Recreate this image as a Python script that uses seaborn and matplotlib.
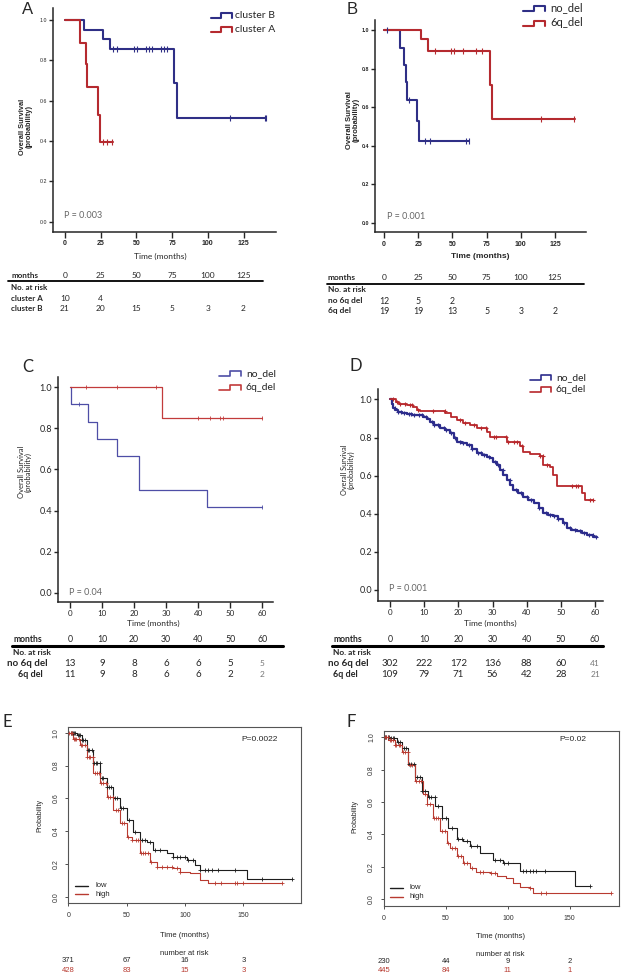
import numpy as np
import pandas as pd
import matplotlib
matplotlib.use("Agg")
import matplotlib.pyplot as plt
import seaborn as sns
from matplotlib.lines import Line2D
from matplotlib.transforms import blended_transform_factory

W, H = 621, 975

# ---------------- data ----------------
# A: cluster B / cluster A
a_clB_t = [13.5, 26.9, 31.5, 76.4, 78.7]
a_clB_s = [0.953, 0.906, 0.857, 0.686, 0.514]
a_clB_cens = [33.9, 36.7, 48.4, 50.2, 56.5, 58.9, 60.7, 67.0, 69.0, 71.7, 115.7, 139.7, 140.6]
a_clA_t = [10.5, 14.7, 15.7, 23.4, 24.5]
a_clA_s = [0.888, 0.78, 0.667, 0.53, 0.397]
a_clA_cens = [26.9, 29.7, 32.7]
a_months = [0, 25, 50, 75, 100, 125]
a_risk_A = [10, 4]
a_risk_B = [21, 20, 15, 5, 3, 2]

# B: no_del / 6q_del
b_no_t = [11.7, 14.6, 15.8, 16.5, 24.3, 25.5]
b_no_s = [0.908, 0.817, 0.73, 0.638, 0.53, 0.423]
b_no_cens = [2.0, 18.4, 30.3, 33.5, 60.2, 62.0]
b_6q_t = [27.4, 32.3, 77.2, 78.9]
b_6q_s = [0.951, 0.892, 0.713, 0.539]
b_6q_cens = [37.1, 49.3, 51.2, 57.8, 67.5, 71.8, 114.8, 138.6]
b_months = [0, 25, 50, 75, 100, 125]
b_risk_no = [12, 5, 2]
b_risk_6q = [19, 19, 13, 5, 3, 2]

# C
c_no_t = [0.5, 5.7, 8.6, 14.8, 21.6, 42.6]
c_no_s = [0.917, 0.833, 0.75, 0.667, 0.5, 0.417]
c_no_cens = [2.8, 59.8]
c_6q_t = [28.8]
c_6q_s = [0.849]
c_6q_cens = [4.9, 14.8, 26.8, 39.8, 43.7, 46.8, 47.6, 59.8]
c_months = [0, 10, 20, 30, 40, 50, 60]
c_risk_no = [13, 9, 8, 6, 6, 5, 5]
c_risk_6q = [11, 9, 8, 6, 6, 2, 2]

# D
d_no_t = [0.5, 1.0, 1.6, 2.4, 3.5, 4.9, 6.5, 7.8, 9.8, 10.8, 11.7, 13.0, 14.6, 16.0, 17.6,
          18.6, 19.5, 21.0, 22.4, 24.0, 25.4, 27.0, 28.3, 29.3, 30.2, 31.2, 32.2, 33.2,
          34.1, 35.1, 36.1, 37.5, 39.0, 40.5, 42.0, 43.5, 44.9, 46.3, 47.8, 49.2, 50.7,
          51.7, 53.1, 54.6, 56.1, 57.6, 59.5]
d_no_s = [0.975, 0.953, 0.945, 0.935, 0.93, 0.923, 0.92, 0.918, 0.909, 0.895, 0.883, 0.868,
          0.852, 0.838, 0.822, 0.80, 0.778, 0.77, 0.761, 0.74, 0.717, 0.708, 0.70, 0.69,
          0.674, 0.655, 0.63, 0.605, 0.578, 0.55, 0.525, 0.507, 0.49, 0.472, 0.455, 0.43,
          0.403, 0.395, 0.386, 0.37, 0.35, 0.325, 0.315, 0.307, 0.298, 0.29, 0.277]
d_no_cens = [1.5, 2.5, 3.2, 4.0, 5.5, 6.3, 7.1, 8.6, 9.4, 10.5, 12.2, 13.0, 14.1, 15.8, 16.5,
             18.0, 19.0, 20.6, 21.3, 23.0, 24.1, 25.8, 26.7, 27.5, 29.0, 30.8, 31.5, 33.0,
             35.0, 36.8, 38.2, 40.1, 41.3, 43.5, 45.5, 46.8, 48.0, 49.2, 51.0, 52.8, 54.0,
             55.5, 56.8, 58.3, 59.4, 60.3]
d_6q_t = [1.8, 2.6, 4.9, 6.8, 7.8, 8.8, 16.1, 18.0, 19.5, 21.5, 23.4, 25.4, 28.3, 29.3, 34.1,
          38.0, 39.0, 41.0, 43.9, 44.9, 46.8, 47.8, 48.8, 56.1, 57.1]
d_6q_s = [0.985, 0.976, 0.97, 0.958, 0.944, 0.939, 0.927, 0.906, 0.892, 0.874, 0.866, 0.852,
          0.83, 0.805, 0.778, 0.756, 0.726, 0.712, 0.703, 0.656, 0.647, 0.604, 0.546, 0.508,
          0.473]
d_6q_cens = [0.8, 2.0, 3.0, 4.3, 5.8, 6.5, 8.2, 12.5, 16.0, 20.6, 22.0, 24.5, 26.5, 28.0,
             30.3, 31.0, 33.8, 34.5, 36.4, 37.2, 38.5, 44.0, 44.8, 45.8, 53.2, 54.4, 55.0,
             58.5, 59.4]
d_months = [0, 10, 20, 30, 40, 50, 60]
d_risk_no = [302, 222, 172, 136, 88, 60, 41]
d_risk_6q = [109, 79, 71, 56, 42, 28, 21]

# E: low / high
e_low_t = [7.1, 11.4, 15.7, 21.4, 27.1, 32.9, 38.6, 44.3, 50.0, 55.7, 61.4, 67.1, 72.9,
           84.3, 90.0, 101.4, 108.6, 112.9, 152.9]
e_low_s = [0.986, 0.955, 0.894, 0.813, 0.722, 0.671, 0.60, 0.539, 0.468, 0.397, 0.346,
           0.336, 0.285, 0.264, 0.244, 0.223, 0.193, 0.163, 0.106]
e_low_cens = [2, 3, 4, 5, 6, 8, 9, 10, 12, 13, 14, 17, 18, 20, 22, 24, 25, 27, 29, 30, 33,
              35, 37, 40, 42, 45, 47, 52, 57, 63, 66, 70, 74, 79, 90, 92.9, 95.7, 100, 102.9,
              107.1, 112.9, 117, 120, 122.9, 128.6, 142.9, 165.7, 191.4]
e_high_t = [4.3, 10.0, 15.7, 21.4, 27.1, 32.9, 38.6, 44.3, 50.0, 54.3, 61.4, 70.0, 75.7,
            90.0, 95.7, 104.3, 112.9, 120.0]
e_high_s = [0.965, 0.925, 0.854, 0.752, 0.691, 0.61, 0.529, 0.448, 0.366, 0.346, 0.264,
            0.213, 0.183, 0.173, 0.153, 0.142, 0.102, 0.081]
e_high_cens = [1, 2, 3, 5, 6, 7, 9, 11, 12, 14, 16, 18, 19, 21, 23, 25, 26, 28, 30, 32, 34,
               36, 38, 41, 43, 46, 48, 51, 55, 58, 60, 62, 64, 66, 68, 71, 75.7, 80, 84.3,
               88.6, 92.9, 95.7, 125.7, 131, 142.9, 144.9, 150, 182.9]
e_months = [0, 50, 100, 150]
e_risk_low = [371, 67, 16, 3]
e_risk_high = [428, 83, 15, 3]

# F: low / high
f_low_t = [4.8, 10.2, 14.2, 19.6, 25.0, 30.4, 35.8, 41.1, 46.5, 51.9, 58.6, 64.0, 69.4,
           77.4, 88.2, 96.2, 109.7, 154.0]
f_low_s = [0.994, 0.973, 0.931, 0.838, 0.754, 0.671, 0.629, 0.577, 0.504, 0.442, 0.369,
           0.358, 0.327, 0.285, 0.244, 0.223, 0.175, 0.081]
f_low_cens = [1, 2, 3, 4, 6, 7, 8, 11, 13, 16, 18, 20, 22, 24, 27, 29, 31, 33, 36, 38, 41,
              44, 47, 50, 55, 60, 63, 67, 70, 75, 89.5, 93.5, 96.8, 100.3, 112.4, 115, 117.7,
              120.4, 123.1, 129.8, 166.0]
f_high_t = [3.5, 8.9, 14.2, 19.6, 25.0, 31.7, 34.4, 39.8, 45.2, 50.5, 53.2, 58.6, 64.0,
            69.4, 74.7, 85.5, 90.9, 98.9, 104.3, 109.7, 117.7, 120.4]
f_high_s = [0.983, 0.952, 0.91, 0.827, 0.733, 0.65, 0.588, 0.504, 0.421, 0.348, 0.317,
            0.265, 0.223, 0.192, 0.165, 0.16, 0.14, 0.129, 0.098, 0.077, 0.067, 0.04]
f_high_cens = [1, 2, 3, 5, 6, 7, 9, 10, 12, 13, 15, 17, 19, 21, 23, 26, 28, 30, 33, 35, 37,
               40, 42, 44, 47, 49, 52, 55, 57, 60, 62, 65, 67, 70.7, 77.4, 80.1, 86.8, 89.5,
               117.7, 127.2, 131.2, 183.6]
f_months = [0, 50, 100, 150]
f_risk_low = [230, 44, 9, 2]
f_risk_high = [445, 84, 11, 1]

# ---------------- helpers ----------------
sns.set_style("ticks")
plt.rcParams["font.family"] = ["Lato", "DejaVu Sans"]

fig = plt.figure(figsize=(W / 100, H / 100), dpi=100)


def rect(l, t, r, b):
    return [l / W, 1 - b / H, (r - l) / W, (b - t) / H]


def fy(y):
    return 1 - y / H


def ftext(x, y, s, **kw):
    kw.setdefault("va", "center")
    fig.text(x / W, fy(y), s, **kw)


def hline(x0, x1, y, lw=1.5, color="black"):
    fig.add_artist(Line2D([x0 / W, x1 / W], [fy(y), fy(y)], color=color, lw=lw))


def step_icon(x0, y, w, color, lw=1.5):
    xs = np.array([0, 0.5, 0.5, 1.0, 1.0]) * w + x0
    ys = np.array([2.5, 2.5, -2.5, -2.5, 2.5]) + y
    fig.add_artist(Line2D(xs / W, 1 - ys / H, color=color, lw=lw))


def km(ax, times, surv, cens, end, color, lw, ms, marker="|", mew=0.8):
    t = [0.0] + list(times) + [end]
    s = [1.0] + list(surv) + [surv[-1]]
    df = pd.DataFrame({"t": t, "s": s})
    sns.lineplot(data=df, x="t", y="s", drawstyle="steps-post", color=color, lw=lw,
                 estimator=None, sort=False, ax=ax)
    idx = np.searchsorted(np.array(times), np.array(cens), side="right")
    cy = np.array([1.0] + list(surv))[idx]
    cdf = pd.DataFrame({"t": cens, "s": cy})
    sns.scatterplot(data=cdf, x="t", y="s", marker=marker, color=color, s=ms,
                    linewidth=mew, ax=ax, zorder=3)


def risk_row(ax, y, months, values, **kw):
    tr = blended_transform_factory(ax.transData, fig.transFigure)
    for m, v in zip(months, values):
        kw2 = dict(ha="center", va="center")
        kw2.update(kw)
        ax.text(m, fy(y), str(v), transform=tr, **kw2)


def gp_axes(ax, xlim, ylim, xticks, xfs, yfs, xbold=False, ybold=False, family=None):
    ax.set_xlim(*xlim)
    ax.set_ylim(*ylim)
    sns.despine(ax=ax)
    ax.set_xticks(xticks)
    ax.set_yticks([0, 0.2, 0.4, 0.6, 0.8, 1.0])
    ax.set_yticklabels(["0.0", "0.2", "0.4", "0.6", "0.8", "1.0"])
    ax.tick_params(axis="x", labelsize=xfs, length=4, width=1, pad=2)
    ax.tick_params(axis="y", labelsize=yfs, length=3, width=1, pad=1.5)
    for lab in ax.get_xticklabels():
        if xbold:
            lab.set_fontweight("bold")
        if family:
            lab.set_family(family)
    for lab in ax.get_yticklabels():
        if ybold:
            lab.set_fontweight("bold")
        if family:
            lab.set_family(family)
    for sp in ax.spines.values():
        sp.set_linewidth(1.1)
    ax.set_xlabel("")
    ax.set_ylabel("")


navy = "#2f2f86"
dred = "#b52a2f"

# ---------------- Panel A ----------------
axA = fig.add_axes(rect(53, 8, 276, 232))
km(axA, a_clB_t, a_clB_s, a_clB_cens, 140.6, navy, 1.5, 14)
km(axA, a_clA_t, a_clA_s, a_clA_cens, 33.5, dred, 1.5, 14)
gp_axes(axA, (-8.4, 147.7), (-0.051, 1.06), a_months, 5, 3.8, xbold=True,
        family=["Liberation Sans Narrow", "Liberation Sans"])
ftext(22, 9, "A", fontsize=12, family="Liberation Sans")
step_icon(211, 15.7, 21, navy)
step_icon(211, 29, 21, dred)
ftext(235, 15.7, "cluster B", fontsize=7.5)
ftext(235, 29, "cluster A", fontsize=7.5)
ftext(64, 216, "P = 0.003", fontsize=6.5, color="#666666")
ftext(26, 127, "Overall Survival\n(probability)", fontsize=5.3, rotation=90, ha="center",
      fontweight="bold", family="Liberation Sans", linespacing=1.0)
ftext(160, 256.7, "Time (months)", fontsize=6, ha="center")
ftext(11, 275, "months", fontsize=5.8, fontweight="bold")
risk_row(axA, 275, a_months, a_months, fontsize=6)
hline(8, 263, 280.5, lw=1.3)
ftext(11, 287.3, "No. at risk", fontsize=5.8, fontweight="bold")
ftext(11, 298.3, "cluster A", fontsize=5.8, fontweight="bold")
ftext(11, 309, "cluster B", fontsize=5.8, fontweight="bold")
risk_row(axA, 298.3, a_months, a_risk_A, fontsize=6)
risk_row(axA, 309, a_months, a_risk_B, fontsize=6)

# ---------------- Panel B ----------------
axB = fig.add_axes(rect(375, 20, 586, 232.3))
km(axB, b_no_t, b_no_s, b_no_cens, 62.0, navy, 1.5, 14)
km(axB, b_6q_t, b_6q_s, b_6q_cens, 139.5, dred, 1.5, 14)
gp_axes(axB, (-6.6, 147.7), (-0.05, 1.052), b_months, 5, 3.8, xbold=True, ybold=True,
        family=["Liberation Sans Narrow", "Liberation Sans"])
ftext(347, 10, "B", fontsize=12, family="Liberation Sans")
step_icon(523, 8, 22, navy)
step_icon(523, 23, 22, dred)
ftext(550, 8, "no_del", fontsize=8)
ftext(550, 23, "6q_del", fontsize=8)
ftext(387, 216.7, "P = 0.001", fontsize=6.5, color="#666666")
ftext(353, 120, "Overall Survival\n(probability)", fontsize=5.5, rotation=90, ha="center",
      fontweight="bold", family="Liberation Sans", linespacing=1.0)
ftext(480, 256, "Time (months)", fontsize=6, ha="center", fontweight="bold",
      family="Liberation Sans")
ftext(328, 277.3, "months", fontsize=6, fontweight="bold")
risk_row(axB, 277.3, b_months, b_months, fontsize=6)
hline(326.7, 584, 284.3, lw=1.3)
ftext(328, 289.5, "No. at risk", fontsize=6, fontweight="bold")
ftext(328, 301, "no 6q del", fontsize=6, fontweight="bold")
ftext(328, 311, "6q del", fontsize=6, fontweight="bold")
risk_row(axB, 301, b_months, b_risk_no, fontsize=6.3)
risk_row(axB, 311, b_months, b_risk_6q, fontsize=6.3)

# ---------------- Panel C ----------------
blue_c = "#4e4ea6"
red_c = "#c23b3b"
axC = fig.add_axes(rect(58.3, 376.7, 272.7, 601.7))
km(axC, c_no_t, c_no_s, c_no_cens, 59.8, blue_c, 0.9, 10, mew=0.6)
km(axC, c_6q_t, c_6q_s, c_6q_cens, 59.8, red_c, 0.9, 10, mew=0.6)
gp_axes(axC, (-3.6, 63.2), (-0.044, 1.052), c_months, 5.8, 6.5)
ftext(22, 367, "C", fontsize=12)
step_icon(219, 373.3, 22, blue_c, lw=1.2)
step_icon(219, 387.3, 22, red_c, lw=1.2)
ftext(246, 373.3, "no_del", fontsize=7.5)
ftext(246, 387.3, "6q_del", fontsize=7.5)
ftext(69.3, 592.3, "P = 0.04", fontsize=6.5, color="#666666")
ftext(25, 471.7, "Overall Survival\n(probability)", fontsize=5.5, rotation=90, ha="center",
      linespacing=1.0)
ftext(153.3, 623.3, "Time (months)", fontsize=6, ha="center")
ftext(13, 639.3, "months", fontsize=6.2, fontweight="bold")
risk_row(axC, 639.3, c_months, c_months, fontsize=6.3)
hline(11.7, 282.7, 646, lw=2.2)
ftext(13, 652.7, "No. at risk", fontsize=6, fontweight="bold")
ftext(7, 663.3, "no 6q del", fontsize=7, fontweight="bold")
ftext(18, 674.3, "6q del", fontsize=6.5, fontweight="bold")
risk_row(axC, 663.3, c_months[:-1], c_risk_no[:-1], fontsize=7)
risk_row(axC, 674.3, c_months[:-1], c_risk_6q[:-1], fontsize=7)
risk_row(axC, 663.3, c_months[-1:], c_risk_no[-1:], fontsize=6, color="#777777")
risk_row(axC, 674.3, c_months[-1:], c_risk_6q[-1:], fontsize=6, color="#777777")

# ---------------- Panel D ----------------
blue_d = "#2c2c8c"
red_d = "#b8282c"
axD = fig.add_axes(rect(378.3, 389.3, 603.3, 601))
km(axD, d_no_t, d_no_s, d_no_cens, 60.5, blue_d, 1.6, 10, marker="+", mew=0.8)
km(axD, d_6q_t, d_6q_s, d_6q_cens, 59.5, red_d, 1.3, 10, marker="+", mew=0.8)
gp_axes(axD, (-3.4, 62.4), (-0.058, 1.053), d_months, 5.8, 6.5)
ftext(350, 366, "D", fontsize=12)
step_icon(530, 377.7, 21, blue_d, lw=1.2)
step_icon(530, 389.3, 21, red_d, lw=1.2)
ftext(556, 377.7, "no_del", fontsize=7.5)
ftext(556, 389.3, "6q_del", fontsize=7.5)
ftext(389, 588.3, "P = 0.001", fontsize=6.5, color="#666666")
ftext(348, 470, "Overall Survival\n(probability)", fontsize=5.3, rotation=90, ha="center",
      linespacing=1.0)
ftext(490, 623.3, "Time (months)", fontsize=6, ha="center")
ftext(333, 639.3, "months", fontsize=6.2, fontweight="bold")
risk_row(axD, 639.3, d_months, d_months, fontsize=6.3)
hline(331.7, 602.7, 646, lw=2.2)
ftext(333, 652.7, "No. at risk", fontsize=6, fontweight="bold")
ftext(328, 663.3, "no 6q del", fontsize=7, fontweight="bold")
ftext(333, 674.3, "6q del", fontsize=6.5, fontweight="bold")
risk_row(axD, 663.3, d_months[:-1], d_risk_no[:-1], fontsize=7)
risk_row(axD, 674.3, d_months[:-1], d_risk_6q[:-1], fontsize=7)
risk_row(axD, 663.3, d_months[-1:], d_risk_no[-1:], fontsize=6, color="#777777")
risk_row(axD, 674.3, d_months[-1:], d_risk_6q[-1:], fontsize=6, color="#777777")

# ---------------- Panels E / F (R style) ----------------
blk = "#1e1e1e"
red_r = "#b83a30"


def r_axes(ax, xlim, ylim, xticks):
    ax.set_xlim(*xlim)
    ax.set_ylim(*ylim)
    ax.set_xticks(xticks)
    ax.set_yticks([0, 0.2, 0.4, 0.6, 0.8, 1.0])
    ax.set_yticklabels(["0.0", "0.2", "0.4", "0.6", "0.8", "1.0"], rotation=90, va="center")
    ax.tick_params(labelsize=5, length=2.5, width=0.6, pad=4, colors="#333333")
    for lab in ax.get_xticklabels() + ax.get_yticklabels():
        lab.set_family("Liberation Sans")
    for sp in ax.spines.values():
        sp.set_linewidth(0.8)
        sp.set_color("#555555")
    ax.set_xlabel("")
    ax.set_ylabel("")


axE = fig.add_axes(rect(68.3, 726.7, 301, 903.3))
km(axE, e_low_t, e_low_s, e_low_cens, 191.4, blk, 0.8, 12, marker="+", mew=0.6)
km(axE, e_high_t, e_high_s, e_high_cens, 182.9, red_r, 0.8, 12, marker="+", mew=0.6)
r_axes(axE, (0, 199.4), (-0.04, 1.037), e_months)
ftext(2, 721.7, "E", fontsize=12)
ftext(241, 739.3, "P=0.0022", fontsize=6, family="Liberation Sans")
ftext(40, 815, "Probability", fontsize=5, rotation=90, ha="center", family="Liberation Sans")
hline(75, 88, 885.7, lw=1.0, color=blk)
hline(75, 88, 894.3, lw=1.0, color=red_r)
ftext(95, 885.7, "low", fontsize=5.5, family="Liberation Sans")
ftext(95, 894.3, "high", fontsize=5.5, family="Liberation Sans")
ftext(185, 935.7, "Time (months)", fontsize=5.5, ha="center", family="Liberation Sans")
ftext(184, 953.3, "number at risk", fontsize=5.5, ha="center", family="Liberation Sans")
risk_row(axE, 961, e_months, e_risk_low, fontsize=5.5, family="Liberation Sans")
risk_row(axE, 970, e_months, e_risk_high, fontsize=5.5, family="Liberation Sans", color=red_r)

axF = fig.add_axes(rect(384, 730.7, 619, 905.7))
km(axF, f_low_t, f_low_s, f_low_cens, 166.0, blk, 0.8, 12, marker="+", mew=0.6)
km(axF, f_high_t, f_high_s, f_high_cens, 183.6, red_r, 0.8, 12, marker="+", mew=0.6)
r_axes(axF, (0, 189.8), (-0.041, 1.041), f_months)
ftext(347, 721.7, "F", fontsize=12)
ftext(559, 739.3, "P=0.02", fontsize=6, family="Liberation Sans")
ftext(355, 816.7, "Probability", fontsize=5, rotation=90, ha="center", family="Liberation Sans")
hline(390, 403, 887.7, lw=1.0, color=blk)
hline(390, 403, 896.7, lw=1.0, color=red_r)
ftext(410, 887.7, "low", fontsize=5.5, family="Liberation Sans")
ftext(410, 896.7, "high", fontsize=5.5, family="Liberation Sans")
ftext(501, 936.7, "Time (months)", fontsize=5.5, ha="center", family="Liberation Sans")
ftext(500, 954.3, "number at risk", fontsize=5.5, ha="center", family="Liberation Sans")
risk_row(axF, 961.7, f_months, f_risk_low, fontsize=5.5, family="Liberation Sans")
risk_row(axF, 971, f_months, f_risk_high, fontsize=5.5, family="Liberation Sans", color=red_r)

fig.savefig("out.png", dpi=100, facecolor="white")
